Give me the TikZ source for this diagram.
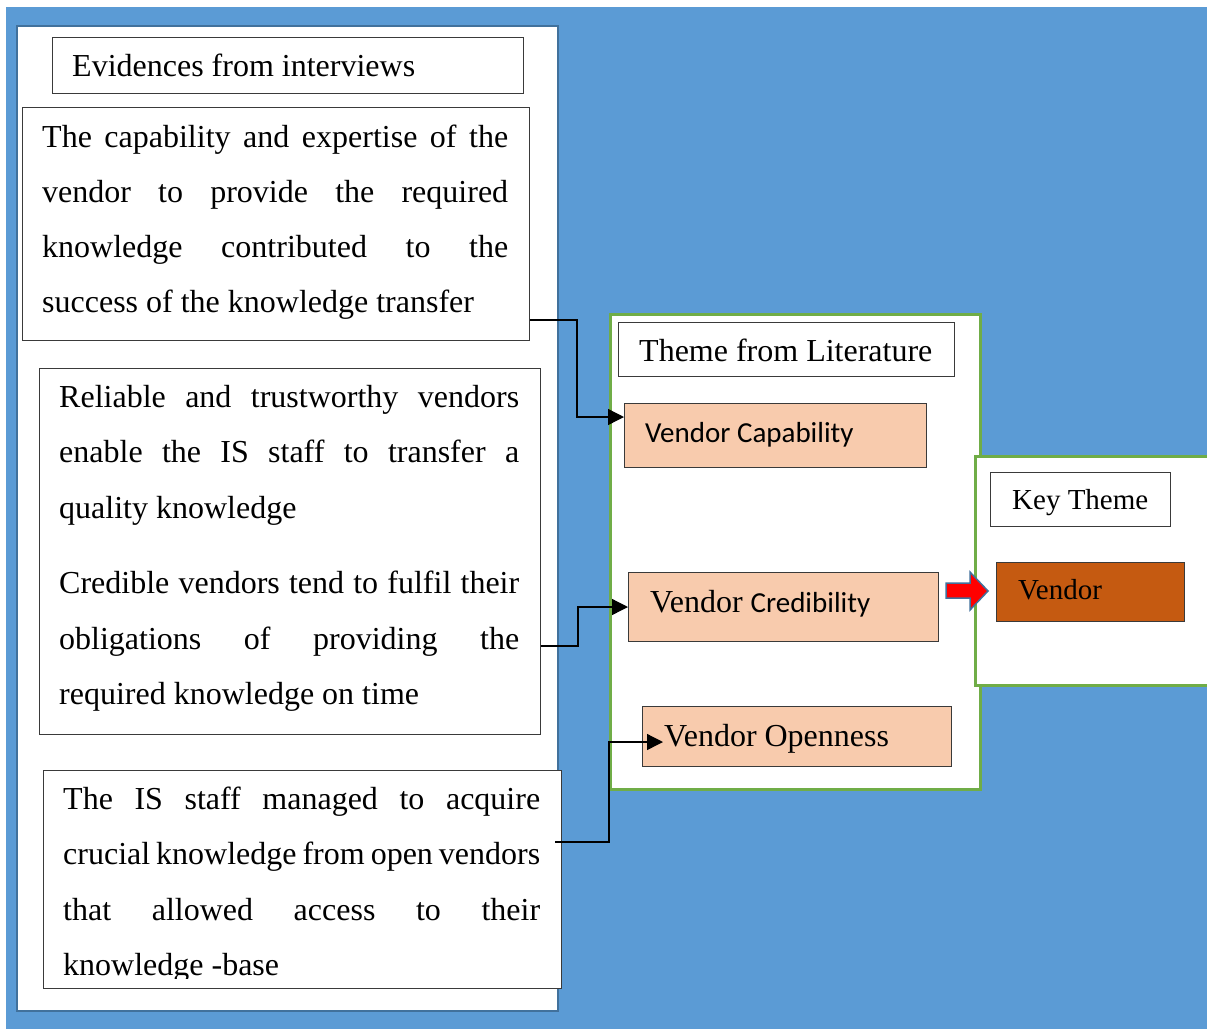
\documentclass[tikz,border=0pt]{standalone}
\usepackage{fontspec}
\setmainfont{Liberation Serif}
\newfontfamily\calfont{Carlito}
\usetikzlibrary{arrows.meta}
\definecolor{bgblue}{HTML}{5B9BD5}
\definecolor{panelblue}{HTML}{41719C}
\definecolor{pgreen}{HTML}{70AD47}
\definecolor{boxgray}{HTML}{3A3A3A}
\definecolor{peachfill}{HTML}{F8CBAD}
\definecolor{vendorfill}{HTML}{C55A11}
\definecolor{redfill}{HTML}{FF0000}
\newcommand\bigtxt{\fontsize{32}{40}\selectfont}
\newcommand\midtxt{\fontsize{29}{36}\selectfont}
\begin{document}
\begin{tikzpicture}[x=1pt,y=-1pt,
  panel/.style={fill=white, inner sep=0pt, anchor=north west},
  box/.style={draw=boxgray, line width=1.2pt, fill=white, inner sep=0pt, anchor=north west},
  peach/.style={box, fill=peachfill},
  txt/.style={anchor=base west, inner sep=0pt, font=\bigtxt},
  stxt/.style={anchor=base west, inner sep=0pt, font=\midtxt},
  ctxt/.style={anchor=base west, inner sep=0pt, font=\midtxt\calfont},
  conn/.style={draw=black, line width=1.3pt},
  tip/.style={-{Triangle[length=16pt,width=16pt]}}]
\useasboundingbox (0,0) rectangle (1207,1029);
\fill[white] (0,0) rectangle (1207,1029);
\fill[bgblue] (6,7) rectangle (1207,1029);

% left panel
\node[panel, draw=panelblue, line width=2pt, minimum width=541pt, minimum height=985pt] (left) at (16,25) {};
\node[box, minimum width=471pt, minimum height=56pt] (ev) at (52,37) {};
\node[txt] (evt) at (72,76) {Evidences from interviews};

\node[box, minimum width=507pt, minimum height=233pt] (b1) at (22,107) {};
\node[txt] (b1a) at (42,147) {\makebox[466pt][s]{The capability and expertise of the}};
\node[txt] (b1b) at (42,202) {\makebox[466pt][s]{vendor to provide the required}};
\node[txt] (b1c) at (42,257) {\makebox[466pt][s]{knowledge contributed to the}};
\node[txt] (b1d) at (42,312) {success of the knowledge transfer};

\node[box, minimum width=501pt, minimum height=366pt] (b2) at (39,368) {};
\node[txt] (b2a) at (59,407) {\makebox[460pt][s]{Reliable and trustworthy vendors}};
\node[txt] (b2b) at (59,462) {\makebox[460pt][s]{enable the IS staff to transfer a}};
\node[txt] (b2c) at (59,518) {quality knowledge};
\node[txt] (b2d) at (59,593) {\makebox[460pt][s]{Credible vendors tend to fulfil their}};
\node[txt] (b2e) at (59,649) {\makebox[460pt][s]{obligations of providing the}};
\node[txt] (b2f) at (59,704) {required knowledge on time};

\node[box, minimum width=518pt, minimum height=218pt] (b3) at (43,770) {};
\begin{scope}
\clip (43,770) rectangle (561,978);
\node[txt] (b3a) at (63,809) {\makebox[477pt][s]{The IS staff managed to acquire}};
\node[txt] (b3b) at (63,864) {\makebox[477pt][s]{crucial knowledge from open vendors}};
\node[txt] (b3c) at (63,920) {\makebox[477pt][s]{that allowed access to their}};
\node[txt] (b3d) at (63,975) {knowledge -base};
\end{scope}

% middle panel
\node[panel, draw=pgreen, line width=2.5pt, minimum width=370pt, minimum height=475pt] (mid) at (609,313) {};
\node[box, minimum width=336pt, minimum height=54pt] (tfl) at (618,322) {};
\node[txt] (tflt) at (639,361) {Theme from Literature};
\node[peach, minimum width=302pt, minimum height=64pt] (cap) at (624,403) {};
\node[ctxt] (capt) at (645,442) {Vendor Capability};
\node[peach, minimum width=310pt, minimum height=69pt] (cred) at (628,572) {};
\node[txt] (credt) at (650,612) {Vendor {\midtxt\calfont Credibility}};
\node[peach, minimum width=309pt, minimum height=60pt] (open) at (642,706) {};
\node[txt] (opent) at (664,746) {Vendor Openness};

% right panel
\node[panel, draw=pgreen, line width=2.5pt, minimum width=245pt, minimum height=229pt] (right) at (974,455) {};
\node[box, minimum width=180pt, minimum height=54pt] (kt) at (990,472) {};
\node[stxt] (ktt) at (1012,509) {Key Theme};
\node[box, fill=vendorfill, minimum width=188pt, minimum height=59pt] (ven) at (996,562) {};
\node[stxt] (vent) at (1018,599) {Vendor};

% red block arrow
\draw[fill=redfill, draw=panelblue, line width=1.5pt, line join=miter]
  (946,583) -- (970,583) -- (970,572) -- (988,591) -- (970,610) -- (970,598) -- (946,598) -- cycle;

% connectors
\coordinate (k1) at (577,320);
\coordinate (k2) at (577,417);
\draw[conn,tip] (b1.east |- k1) -- (k1) -- (k2) -- (cap.west |- k2);
\coordinate (k3) at (578,646);
\coordinate (k4) at (578,607);
\draw[conn,tip] (b2.east |- k3) -- (k3) -- (k4) -- (cred.west |- k4);
\coordinate (k5s) at (555,842);
\coordinate (k5) at (609,842);
\coordinate (k6) at (609,742);
\coordinate (k6e) at (663,742);
\draw[conn,tip] (k5s) -- (k5) -- (k6) -- (k6e);
\end{tikzpicture}
\end{document}
